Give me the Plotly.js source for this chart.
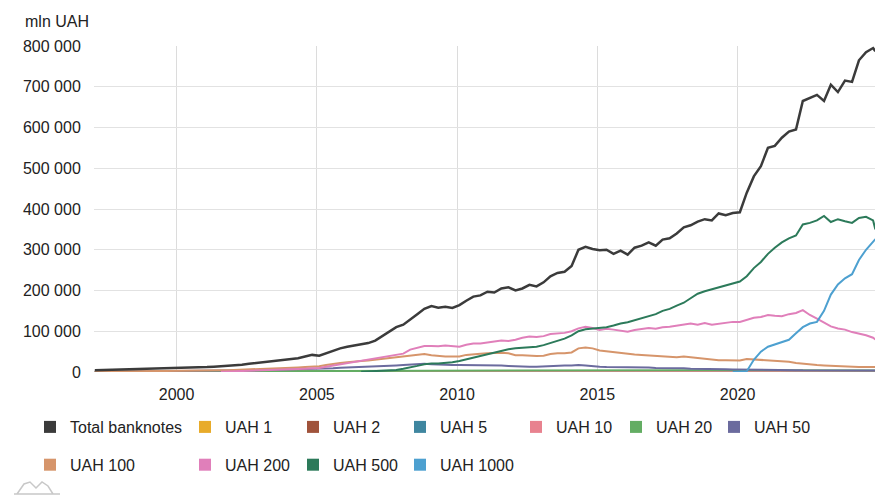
<!DOCTYPE html>
<html>
<head>
<meta charset="utf-8">
<script src="https://cdn.plot.ly/plotly-3.0.1.min.js"></script>
<style>
  html, body { margin: 0; padding: 0; background: #fff; }
  #chart { width: 891px; height: 500px; }
</style>
</head>
<body>
<div id="chart"></div>
<script>
// Quarterly observation dates
const datesQ = [
  '1997-01-31','1997-04-30','1997-07-31','1997-10-31',
  '1998-01-31','1998-04-30','1998-07-31','1998-10-31',
  '1999-01-31','1999-04-30','1999-07-31','1999-10-31',
  '2000-01-31','2000-04-30','2000-07-31','2000-10-31',
  '2001-01-31','2001-04-30','2001-07-31','2001-10-31',
  '2002-01-31','2002-04-30','2002-07-31','2002-10-31',
  '2003-01-31','2003-04-30','2003-07-31','2003-10-31',
  '2004-01-31','2004-04-30','2004-07-31','2004-10-31',
  '2005-01-31','2005-04-30','2005-07-31','2005-10-31',
  '2006-01-31','2006-04-30','2006-07-31','2006-10-31',
  '2007-01-31','2007-04-30','2007-07-31','2007-10-31',
  '2008-01-31','2008-04-30','2008-07-31','2008-10-31',
  '2009-01-31','2009-04-30','2009-07-31','2009-10-31',
  '2010-01-31','2010-04-30','2010-07-31','2010-10-31',
  '2011-01-31','2011-04-30','2011-07-31','2011-10-31',
  '2012-01-31','2012-04-30','2012-07-31','2012-10-31',
  '2013-01-31','2013-04-30','2013-07-31','2013-10-31',
  '2014-01-31','2014-04-30','2014-07-31','2014-10-31',
  '2015-01-31','2015-04-30','2015-07-31','2015-10-31',
  '2016-01-31','2016-04-30','2016-07-31','2016-10-31',
  '2017-01-31','2017-04-30','2017-07-31','2017-10-31',
  '2018-01-31','2018-04-30','2018-07-31','2018-10-31',
  '2019-01-31','2019-04-30','2019-07-31','2019-10-31',
  '2020-01-31','2020-04-30','2020-07-31','2020-10-31',
  '2021-01-31','2021-04-30','2021-07-31','2021-10-31',
  '2022-01-31','2022-04-30','2022-07-31','2022-10-31',
  '2023-01-31','2023-04-30','2023-07-31','2023-10-31',
  '2024-01-31','2024-04-30','2024-07-31','2024-10-31','2024-11-30'
];
// Annual observation dates (small denominations)
const datesA = ['1997-01-31','1998-01-31','1999-01-31','2000-01-31','2001-01-31','2002-01-31','2003-01-31',
  '2004-01-31','2005-01-31','2006-01-31','2007-01-31','2008-01-31','2009-01-31','2010-01-31','2011-01-31',
  '2012-01-31','2013-01-31','2014-01-31','2015-01-31','2016-01-31','2017-01-31','2018-01-31','2019-01-31',
  '2020-01-31','2021-01-31','2022-01-31','2023-01-31','2024-01-31','2024-11-30'];

// Values, thousand mln UAH
const totalBanknotes = [
  4,4.5,5,5.5, 5.5,6,6,6.5, 7,7,7.5,8, 8.5,9,10,11, 12,13,14,15, 17,18,20,22, 23,25,27,29,
  31,34,38,42, 40,46,52,58, 62,65,68,71, 77,88,100,110, 116,130,142,155, 162,158,160,157,
  164,175,185,188, 197,195,205,208, 200,205,214,210, 220,235,243,246, 260,300,307,302,
  299,300,290,298, 288,305,310,318, 310,325,328,340, 355,360,369,375, 372,389,385,390,
  392,440,480,505, 550,555,575,590, 595,665,672,680, 665,705,687,715, 712,765,785,795,787
];
const uah100 = [
  0.5,0.6,0.7,0.8, 0.9,1,1,1.1, 1.2,1.3,1.5,1.7, 2,2.3,2.6,3, 3.3,3.7,4,4.5, 5,5.5,6,6.5, 7,7.5,8,9,
  10,11,12,13, 14,17,20,22, 24,26,27,28, 30,33,35,37, 38,40,42,44, 41,39,38,38,
  38,42,44,45, 46,47,47,46, 41,41,40,39, 40,44,46,46, 48,58,60,58,
  53,51,49,46, 44,43,42,41, 39,38,37,36, 38,36,34,32, 30,29,29,28,
  28,32,31,30, 29,28,27,25, 22,20,18,17, 16,15,14,13, 13,12.5,12,12,12
];
const uah200 = [
  null,null,null,null, null,null,null,null, null,null,null,null, null,null,null,null, null,null,0.5,1,
  1.5,2,2.5,3, 3.5,4,4.5,5, 6,7,8,9, 10,13,16,19, 21,24,27,30, 33,37,40,43, 45,55,60,64,
  64,63,65,64, 62,67,70,70, 72,75,77,76, 79,84,87,86, 88,93,95,96, 100,107,111,108,
  103,106,104,102, 99,103,105,108, 106,110,111,114, 117,119,116,120, 116,118,120,123,
  123,128,133,135, 140,138,137,142, 145,152,140,131, 122,112,107,104, 98,94,90,84,80
];
const uah500 = [
  null,null,null,null, null,null,null,null, null,null,null,null, null,null,null,null, null,null,null,null,
  null,null,null,null, null,null,null,null, null,null,null,null, null,null,null,null, null,null,0.5,1.5,
  1.5,2,3,5, 8,11,15,19, 21,21,22,24, 27,31,36,40, 43,48,51,56, 58,59,60,62, 66,71,75,82,
  90,100,105,107, 108,110,114,119, 122,127,131,137, 142,150,155,163, 170,181,192,198,
  203,207,212,218, 222,235,255,270, 290,305,318,328, 335,362,366,372, 383,368,375,370,
  366,378,381,372,350
];
const uah1000 = [
  null,null,null,null, null,null,null,null, null,null,null,null, null,null,null,null, null,null,null,null,
  null,null,null,null, null,null,null,null, null,null,null,null, null,null,null,null, null,null,null,null,
  null,null,null,null, null,null,null,null, null,null,null,null, null,null,null,null, null,null,null,null,
  null,null,null,null, null,null,null,null, null,null,null,null, null,null,null,null, null,null,null,null,
  null,null,null,null, null,null,null,null, null,null,null,0.1,
  0.5,2,30,50, 62,68,73,79, 95,110,119,123, 150,190,215,230, 240,275,300,318,326
];
const uah50 = [
  0.8,0.9,1,1, 1.1,1.2,1.2,1.3, 1.4,1.5,1.6,1.8, 2,2.2,2.4,2.6, 2.8,3,3.2,3.5, 3.8,4,4.3,4.6, 5,5.3,5.6,6,
  6.5,7,7.5,8, 7.5,8.5,9.5,10.5, 11,12,12.5,13, 14,15,15.5,16, 17,18,19,20, 19,18,17,17,
  17,17,17,17, 17,16,16,15, 14,14,13,13, 14,15,15,16, 16,17,16,14,
  13,12,12,12, 11,11,11,11, 10,10,10,9, 9,8,8,7.5, 7,7,6.5,6,
  6,5.5,5.5,5, 5,5,4.5,4.5, 4.5,4,4,4, 4,4,3.8,3.8, 3.7,3.6,3.5,3.5,3.5
];
const uah20 = [0.8,1,1.1,1.3,1.6,1.9,2.2,2.6,3,3.4,3.8,4.3,4.2,4.3,4.5,4.5,4.6,4.8,4.8,4.6,4.5,4.5,4.4,4.2,4.1,4,3.8,3.6,3.5];
const uah10 = [0.8,0.9,1.0,1.1,1.2,1.3,1.4,1.5,1.6,1.7,1.8,2.0,2.0,2.1,2.2,2.2,2.3,2.4,2.4,2.4,2.4,2.5,2.5,2.4,2.4,2.3,2.3,2.2,2.2];
const uah5 = [0.5,0.55,0.6,0.65,0.7,0.75,0.8,0.85,0.9,0.95,1.0,1.1,1.1,1.1,1.15,1.2,1.2,1.2,1.2,1.2,1.2,1.2,1.2,1.15,1.1,1.1,1.05,1.0,1.0];
const uah2 = [0.3,0.32,0.34,0.36,0.38,0.4,0.42,0.44,0.46,0.48,0.5,0.52,0.52,0.53,0.54,0.55,0.55,0.55,0.55,0.54,0.53,0.52,0.5,0.48,0.46,0.45,0.44,0.43,0.43];
const uah1 = [0.35,0.37,0.39,0.41,0.43,0.45,0.47,0.49,0.5,0.52,0.54,0.55,0.55,0.56,0.56,0.57,0.57,0.57,0.56,0.55,0.54,0.52,0.5,0.48,0.46,0.44,0.43,0.42,0.42];

const seriesNames = ['Total banknotes','UAH 1','UAH 2','UAH 5','UAH 10','UAH 20','UAH 50','UAH 100','UAH 200','UAH 500','UAH 1000'];
const xTickYears = ['2000','2005','2010','2015','2020'];
const yAxisLabel = 'mln UAH';

const colors = {
  'Total banknotes':'#3b3b3b','UAH 1':'#e8ab2a','UAH 2':'#a0533b','UAH 5':'#3f86a0','UAH 10':'#e8828f',
  'UAH 20':'#63ad63','UAH 50':'#6b6b9e','UAH 100':'#d6956b','UAH 200':'#e07fba','UAH 500':'#2c7a5a','UAH 1000':'#4da0d0'
};
const seriesData = {
  'Total banknotes':[datesQ,totalBanknotes],'UAH 1':[datesA,uah1],'UAH 2':[datesA,uah2],'UAH 5':[datesA,uah5],
  'UAH 10':[datesA,uah10],'UAH 20':[datesA,uah20],'UAH 50':[datesQ,uah50],'UAH 100':[datesQ,uah100],
  'UAH 200':[datesQ,uah200],'UAH 500':[datesQ,uah500],'UAH 1000':[datesQ,uah1000]
};
// legend column assignment
const legendOf = {
  'Total banknotes':'legend','UAH 100':'legend',
  'UAH 1':'legend2','UAH 200':'legend2',
  'UAH 2':'legend3','UAH 500':'legend3',
  'UAH 5':'legend4','UAH 1000':'legend4',
  'UAH 10':'legend5','UAH 20':'legend6','UAH 50':'legend7'
};
const drawOrder = ['UAH 1','UAH 2','UAH 5','UAH 10','UAH 20','UAH 50','UAH 100','UAH 200','UAH 500','UAH 1000','Total banknotes'];

const traces = [];
drawOrder.forEach(name => {
  const d = seriesData[name];
  traces.push({
    type:'scatter', mode:'lines', name:name, legendgroup:name, showlegend:false,
    x:d[0], y:d[1].map(v => v === null ? null : v*1000),
    line:{color:colors[name], width: name==='Total banknotes' ? 2.5 : 2},
    hovertemplate:'%{x|%b %Y}: %{y:,.0f}<extra>'+name+'</extra>'
  });
});
seriesNames.forEach(name => {
  traces.push({
    type:'scatter', mode:'markers', name:name, legendgroup:name, legend:legendOf[name],
    x:[null], y:[null], showlegend:true,
    marker:{symbol:'square', size:12, color:colors[name]}
  });
});

const L = 94, R = 875, T = 46, B = 372;
const px2x = p => (p - L)/(R - L);
const px2y = p => (B - p)/(B - T);
const legendFont = {family:'Liberation Sans, Arial, sans-serif', size:16, color:'#222'};
const legendTextX = [71,226,334,441,557,657,755];
const legendKeys = ['legend','legend2','legend3','legend4','legend5','legend6','legend7'];

const layout = {
  width:891, height:500,
  margin:{l:L, r:891-R, t:T, b:500-B},
  paper_bgcolor:'#fff', plot_bgcolor:'#fff',
  separators:'. ',
  font:{family:'Liberation Sans, Arial, sans-serif', size:16, color:'#222'},
  showlegend:true,
  xaxis:{
    type:'date', range:['1997-01-20','2024-11-25'],
    tickvals: xTickYears.map(y => y+'-01-01'), ticktext: xTickYears,
    showgrid:true, gridcolor:'#dcdcdc', gridwidth:1,
    zeroline:false, showline:false,
    ticks:'outside', ticklen:8, tickcolor:'rgba(0,0,0,0)',
    tickfont:{size:16, color:'#222'}
  },
  yaxis:{
    range:[0,800000], dtick:100000, tickformat:',d',
    showgrid:true, gridcolor:'#e2e2e2', gridwidth:1,
    zeroline:false, showline:false,
    ticks:'outside', ticklen:9, tickcolor:'rgba(0,0,0,0)',
    tickfont:{size:16, color:'#222'}
  },
  annotations:[{
    text:yAxisLabel, xref:'paper', yref:'paper', x:px2x(23), y:px2y(21),
    xanchor:'left', yanchor:'middle', showarrow:false,
    font:{size:16, color:'#222'}
  }],
  shapes:[{
    type:'path', xref:'paper', yref:'paper', layer:'above',
    path:'M '+px2x(17)+','+px2y(494)+' L '+px2x(24)+','+px2y(484)+' L '+px2x(30)+','+px2y(482)+' L '+px2x(36)+','+px2y(488)+' L '+px2x(42)+','+px2y(482)+' L '+px2x(48)+','+px2y(486)+' L '+px2x(53)+','+px2y(494)+' M '+px2x(14)+','+px2y(494)+' L '+px2x(60)+','+px2y(494),
    line:{color:'#c8c8c8', width:1.5}
  }]
};
legendKeys.forEach((k, i) => {
  layout[k] = {
    x: px2x(legendTextX[i] - 41), y: px2y(410), xanchor:'left', yanchor:'top',
    orientation:'v', traceorder:'grouped', tracegroupgap:14,
    font: legendFont, bgcolor:'rgba(0,0,0,0)', borderwidth:0, itemclick:'toggle'
  };
});

Plotly.newPlot('chart', traces, layout, {displayModeBar:false, responsive:false});
</script>
</body>
</html>
